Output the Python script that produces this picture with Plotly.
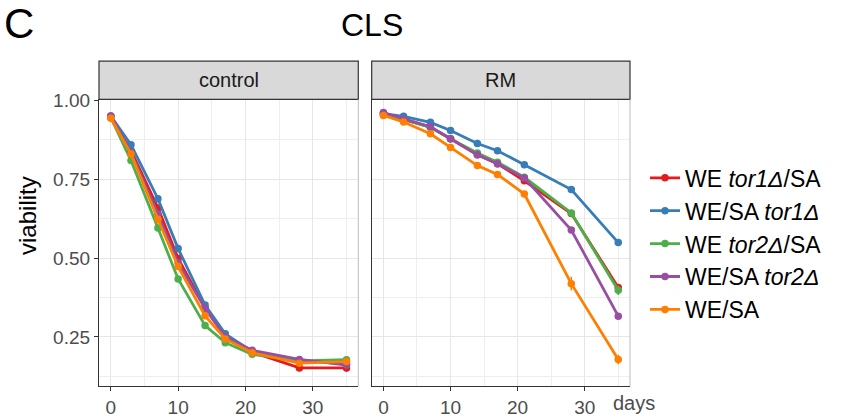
import plotly.graph_objects as go

W, H = 846, 419

days = [0, 3, 7, 10, 14, 17, 21, 28, 35]
series_names = ["WE <i>tor1Δ</i>/SA", "WE/SA <i>tor1Δ</i>", "WE <i>tor2Δ</i>/SA",
                "WE/SA <i>tor2Δ</i>", "WE/SA"]
colors = ["#E41A1C", "#377EB8", "#4DAF4A", "#984EA3", "#FF7F00"]

control_tor1_we = [0.948, 0.840, 0.659, 0.499, 0.342, 0.252, 0.202, 0.152, 0.152]
control_tor1_sa = [0.950, 0.859, 0.688, 0.530, 0.351, 0.260, 0.204, 0.175, 0.165]
control_tor2_we = [0.946, 0.809, 0.595, 0.434, 0.286, 0.232, 0.195, 0.174, 0.178]
control_tor2_sa = [0.950, 0.835, 0.640, 0.485, 0.340, 0.250, 0.208, 0.179, 0.161]
control_wt      = [0.943, 0.830, 0.623, 0.473, 0.317, 0.244, 0.200, 0.167, 0.172]

rm_tor1_we = [0.957, 0.940, 0.915, 0.878, 0.827, 0.799, 0.745, 0.641, 0.407]
rm_tor1_sa = [0.958, 0.949, 0.930, 0.904, 0.863, 0.840, 0.796, 0.717, 0.549]
rm_tor2_we = [0.955, 0.940, 0.914, 0.878, 0.833, 0.804, 0.756, 0.643, 0.398]
rm_tor2_sa = [0.961, 0.941, 0.916, 0.878, 0.827, 0.799, 0.754, 0.589, 0.316]
rm_wt      = [0.952, 0.931, 0.894, 0.850, 0.793, 0.765, 0.703, 0.419, 0.179]

control_err_tor1_we = [0.004, 0.006, 0.006, 0.006, 0.006, 0.005, 0.005, 0.010, 0.012]
control_err_tor1_sa = [0.004, 0.005, 0.005, 0.005, 0.005, 0.005, 0.005, 0.006, 0.006]
control_err_tor2_we = [0.004, 0.006, 0.006, 0.006, 0.006, 0.005, 0.006, 0.010, 0.012]
control_err_tor2_sa = [0.004, 0.005, 0.005, 0.005, 0.005, 0.005, 0.005, 0.008, 0.008]
control_err_wt      = [0.004, 0.005, 0.005, 0.005, 0.005, 0.005, 0.005, 0.008, 0.008]

rm_err_tor1_we = [0.003, 0.004, 0.004, 0.004, 0.004, 0.004, 0.005, 0.006, 0.010]
rm_err_tor1_sa = [0.003, 0.003, 0.003, 0.003, 0.003, 0.003, 0.004, 0.005, 0.006]
rm_err_tor2_we = [0.003, 0.004, 0.004, 0.004, 0.004, 0.004, 0.005, 0.006, 0.015]
rm_err_tor2_sa = [0.003, 0.003, 0.004, 0.004, 0.004, 0.004, 0.004, 0.006, 0.006]
rm_err_wt      = [0.003, 0.004, 0.004, 0.004, 0.004, 0.004, 0.005, 0.022, 0.015]

control = [control_tor1_we, control_tor1_sa, control_tor2_we, control_tor2_sa, control_wt]
control_err = [control_err_tor1_we, control_err_tor1_sa, control_err_tor2_we,
               control_err_tor2_sa, control_err_wt]
rm = [rm_tor1_we, rm_tor1_sa, rm_tor2_we, rm_tor2_sa, rm_wt]
rm_err = [rm_err_tor1_we, rm_err_tor1_sa, rm_err_tor2_we, rm_err_tor2_sa, rm_err_wt]

x_ticks = [0, 10, 20, 30]
x_minor = [5, 15, 25, 35]
y_ticks = [0.25, 0.50, 0.75, 1.00]
y_ticktext = ["0.25", "0.50", "0.75", "1.00"]
y_minor = [0.125, 0.375, 0.625, 0.875]

FONT = "Liberation Sans, Arial, Helvetica, sans-serif"

def px(x):
    return x / W

def py(y):
    return 1 - y / H

# panel geometry (pixels)
L1, R1 = 99, 358.3
L2, R2 = 371.7, 630
TOP, BOT = 92.3, 385.5
STRIP_TOP = 53.3

fig = go.Figure()

for i in range(5):
    fig.add_trace(go.Scatter(
        x=days, y=control[i], mode="lines+markers", name=series_names[i],
        line=dict(color=colors[i], width=2.8), marker=dict(color=colors[i], size=7.5),
        error_y=dict(type="data", array=control_err[i], width=0, thickness=1.5, color=colors[i]),
        xaxis="x", yaxis="y", legendgroup=str(i), showlegend=True))
for i in range(5):
    fig.add_trace(go.Scatter(
        x=days, y=rm[i], mode="lines+markers", name=series_names[i],
        line=dict(color=colors[i], width=2.8), marker=dict(color=colors[i], size=7.5),
        error_y=dict(type="data", array=rm_err[i], width=0, thickness=1.5, color=colors[i]),
        xaxis="x2", yaxis="y2", legendgroup=str(i), showlegend=False))

grid = "#E6E6E6"
axis_common = dict(showline=True, linecolor="#333333", linewidth=1.2, zeroline=False,
                   showgrid=True, gridcolor=grid, gridwidth=1.3,
                   tickfont=dict(family=FONT, size=19, color="#4D4D4D"))

xa = dict(axis_common, range=[-1.75, 36.75], tickmode="array", tickvals=x_ticks,
          ticks="outside", ticklen=4, tickcolor="#333333", tickwidth=1.2,
          minor=dict(tickmode="array", tickvals=x_minor, showgrid=True, gridcolor="#EEEEEE",
                     gridwidth=1, ticks=""))
ya = dict(axis_common, range=[0.094, 1.003], tickmode="array", tickvals=y_ticks,
          ticktext=y_ticktext, ticks="outside", ticklen=4, tickcolor="#333333", tickwidth=1.2,
          minor=dict(tickmode="array", tickvals=y_minor, showgrid=True, gridcolor="#EEEEEE",
                     gridwidth=1, ticks=""))

fig.update_layout(
    width=W, height=H, margin=dict(l=0, r=0, t=0, b=0),
    paper_bgcolor="white", plot_bgcolor="white",
    font=dict(family=FONT, color="black"),
    xaxis=dict(xa, domain=[px(L1), px(R1)], anchor="y"),
    yaxis=dict(ya, domain=[py(BOT), py(TOP)], anchor="x"),
    xaxis2=dict(xa, domain=[px(L2), px(R2)], anchor="y2"),
    yaxis2=dict(ya, domain=[py(BOT), py(TOP)], anchor="x2", showticklabels=False, ticks=""),
    showlegend=True,
    legend=dict(x=px(645), y=py(240), xanchor="left", yanchor="middle",
                font=dict(family=FONT, size=23, color="black"),
                itemwidth=30, bgcolor="rgba(0,0,0,0)", tracegroupgap=0),
)

shapes = []
for (l, r) in [(L1, R1), (L2, R2)]:
    shapes.append(dict(type="rect", xref="paper", yref="paper",
                       x0=px(l), x1=px(r), y0=py(TOP), y1=py(STRIP_TOP),
                       fillcolor="#D9D9D9", line=dict(color="#333333", width=1.2), layer="above"))
    shapes.append(dict(type="line", xref="paper", yref="paper",
                       x0=px(r), x1=px(r), y0=py(BOT), y1=py(TOP),
                       line=dict(color="#BDBDBD", width=1)))
fig.update_layout(shapes=shapes)

ann = [
    dict(text="C", x=px(2), y=py(15), xanchor="left", yanchor="middle",
         font=dict(size=42, family=FONT, color="black")),
    dict(text="CLS", x=px(372), y=py(16), xanchor="center", yanchor="middle",
         font=dict(size=32, family=FONT, color="black")),
    dict(text="control", x=px((L1 + R1) / 2), y=py(72.5), xanchor="center", yanchor="middle",
         font=dict(size=20, family=FONT, color="#1A1A1A")),
    dict(text="RM", x=px((L2 + R2) / 2), y=py(72.5), xanchor="center", yanchor="middle",
         font=dict(size=20, family=FONT, color="#1A1A1A")),
    dict(text="viability", x=px(28), y=py(211.5), xanchor="center", yanchor="middle",
         textangle=-90, font=dict(size=24, family=FONT, color="black")),
    dict(text="days", x=px(633.5), y=py(403), xanchor="center", yanchor="middle",
         font=dict(size=20, family=FONT, color="#4D4D4D")),
]
for a in ann:
    a.update(xref="paper", yref="paper", showarrow=False)
fig.update_layout(annotations=ann)

fig.write_html("out.html")
